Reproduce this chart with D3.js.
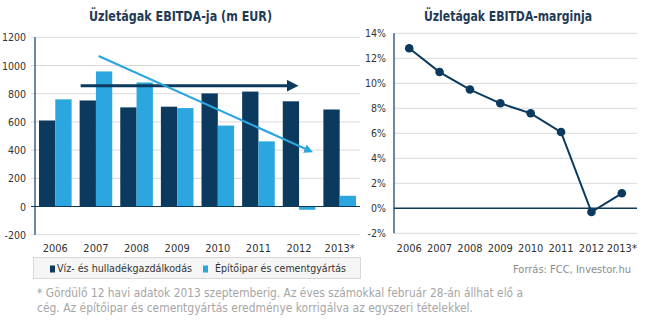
<!DOCTYPE html>
<html>
<head>
<meta charset="utf-8">
<script src="https://cdn.jsdelivr.net/npm/d3@7"></script>
<style>
  body { margin: 0; background: #fff; }
  svg { display: block; font-family: "DejaVu Sans Condensed", "Liberation Sans", sans-serif; }
</style>
</head>
<body>
<div id="chart"></div>
<script>
// data
var years = ["2006", "2007", "2008", "2009", "2010", "2011", "2012", "2013*"];
var vizHulladek = [610, 752, 703, 708, 802, 815, 746, 688];
var epitoipar = [760, 958, 880, 698, 574, 462, -23, 76];
var margin = [12.8, 10.9, 9.5, 8.4, 7.6, 6.1, -0.3, 1.2];
var ebitdaTicks = [-200, 0, 200, 400, 600, 800, 1000, 1200];
var marginTicks = [-2, 0, 2, 4, 6, 8, 10, 12, 14];
var seriesNames = ["Víz- és hulladékgazdálkodás", "Építőipar és cementgyártás"];

var navy = "#0b3a5e", sky = "#2ba6de", grid = "#d9d9d9", labelCol = "#333";

var svg = d3.select("#chart").append("svg")
    .attr("width", 645)
    .attr("height", 322);

// ---- left: EBITDA bars ----
var x1 = d3.scaleBand().domain(years).range([35, 360]);
var y1 = d3.scaleLinear().domain([-200, 1200]).range([234.7, 37.3]);

svg.append("text")
    .attr("x", 180.5).attr("y", 21)
    .attr("text-anchor", "middle")
    .attr("font-size", 13.5).attr("font-weight", "bold")
    .attr("fill", "#1f3b55")
    .attr("textLength", 183).attr("lengthAdjust", "spacingAndGlyphs")
    .text("Üzletágak EBITDA-ja (m EUR)");

svg.append("g").selectAll("line")
    .data(ebitdaTicks.filter(function (d) { return d !== 0; }))
    .enter().append("line")
    .attr("x1", 31).attr("x2", 360)
    .attr("y1", function (d) { return y1(d); })
    .attr("y2", function (d) { return y1(d); })
    .attr("stroke", grid);

svg.append("g").selectAll("text")
    .data(ebitdaTicks)
    .enter().append("text")
    .attr("x", 26)
    .attr("y", function (d) { return y1(d) + 4; })
    .attr("text-anchor", "end")
    .attr("font-size", 10.5)
    .attr("fill", labelCol)
    .text(function (d) { return d; });

var bw = 16.3;
var groups = svg.append("g").selectAll("g")
    .data(years)
    .enter().append("g");

groups.append("rect")
    .attr("x", function (d) { return x1(d) + x1.bandwidth() / 2 - bw; })
    .attr("width", bw)
    .attr("y", function (d, i) { return y1(Math.max(0, vizHulladek[i])); })
    .attr("height", function (d, i) { return Math.abs(y1(vizHulladek[i]) - y1(0)); })
    .attr("fill", navy);

groups.append("rect")
    .attr("x", function (d) { return x1(d) + x1.bandwidth() / 2; })
    .attr("width", bw)
    .attr("y", function (d, i) { return y1(Math.max(0, epitoipar[i])); })
    .attr("height", function (d, i) { return Math.abs(y1(epitoipar[i]) - y1(0)); })
    .attr("fill", sky);

svg.append("line")
    .attr("x1", 31).attr("x2", 360)
    .attr("y1", y1(0)).attr("y2", y1(0))
    .attr("stroke", navy).attr("stroke-width", 1.2);
svg.append("line")
    .attr("x1", 35).attr("x2", 35)
    .attr("y1", y1(1200)).attr("y2", y1(-200))
    .attr("stroke", navy).attr("stroke-width", 1.2);

svg.append("g").selectAll("text")
    .data(years)
    .enter().append("text")
    .attr("x", function (d) { return x1(d) + x1.bandwidth() / 2; })
    .attr("y", 252)
    .attr("text-anchor", "middle")
    .attr("font-size", 11)
    .attr("fill", labelCol)
    .text(function (d) { return d; });

// trend arrows
var defs = svg.append("defs");
[["headNavy", navy], ["headSky", sky]].forEach(function (m) {
    defs.append("marker")
        .attr("id", m[0])
        .attr("viewBox", "0 0 10 10")
        .attr("refX", 6).attr("refY", 5)
        .attr("markerWidth", 4).attr("markerHeight", 4)
        .attr("orient", "auto")
        .append("path")
        .attr("d", "M0,0 L10,5 L0,10 z")
        .attr("fill", m[1]);
});

svg.append("line")
    .attr("x1", x1("2007") + 5).attr("x2", x1("2012") + 15)
    .attr("y1", y1(857)).attr("y2", y1(857))
    .attr("stroke", navy).attr("stroke-width", 3)
    .attr("marker-end", "url(#headNavy)");

svg.append("line")
    .attr("x1", x1("2007") + 23).attr("x2", x1("2012") + 31)
    .attr("y1", y1(1068)).attr("y2", y1(395))
    .attr("stroke", sky).attr("stroke-width", 2.2)
    .attr("marker-end", "url(#headSky)");

// legend
svg.append("rect")
    .attr("x", 33.5).attr("y", 257.5)
    .attr("width", 327).attr("height", 21)
    .attr("fill", "#f5f5f5").attr("stroke", "#d8d8d8");

var legX = [50, 203];
var legW = [135, 131];
var leg = svg.append("g").selectAll("g")
    .data(seriesNames)
    .enter().append("g")
    .attr("transform", function (d, i) { return "translate(" + legX[i] + ",272)"; });
leg.append("rect")
    .attr("x", 0).attr("y", -6.5).attr("width", 5).attr("height", 7)
    .attr("fill", function (d, i) { return i === 0 ? navy : sky; });
leg.append("text")
    .attr("x", function (d, i) { return i === 0 ? 7 : 12; })
    .attr("y", 0)
    .attr("font-size", 11)
    .attr("fill", labelCol)
    .attr("textLength", function (d, i) { return legW[i]; })
    .attr("lengthAdjust", "spacingAndGlyphs")
    .text(function (d) { return d; });

// ---- right: EBITDA margin line ----
var x2 = d3.scaleBand().domain(years).range([394, 637]);
var y2 = d3.scaleLinear().domain([-2, 14]).range([233.3, 33.3]);

svg.append("text")
    .attr("x", 508).attr("y", 21)
    .attr("text-anchor", "middle")
    .attr("font-size", 13.5).attr("font-weight", "bold")
    .attr("fill", "#1f3b55")
    .attr("textLength", 168).attr("lengthAdjust", "spacingAndGlyphs")
    .text("Üzletágak EBITDA-marginja");

svg.append("g").selectAll("line")
    .data(marginTicks.filter(function (d) { return d !== 0; }))
    .enter().append("line")
    .attr("x1", 394).attr("x2", 637)
    .attr("y1", function (d) { return y2(d); })
    .attr("y2", function (d) { return y2(d); })
    .attr("stroke", grid);

svg.append("g").selectAll("text")
    .data(marginTicks)
    .enter().append("text")
    .attr("x", 386)
    .attr("y", function (d) { return y2(d) + 4; })
    .attr("text-anchor", "end")
    .attr("font-size", 10.5)
    .attr("fill", labelCol)
    .text(function (d) { return d + "%"; });

svg.append("line")
    .attr("x1", 394).attr("x2", 637)
    .attr("y1", y2(0)).attr("y2", y2(0))
    .attr("stroke", navy).attr("stroke-width", 1.4);
svg.append("line")
    .attr("x1", 394).attr("x2", 394)
    .attr("y1", y2(14)).attr("y2", y2(-2))
    .attr("stroke", navy).attr("stroke-width", 1.2);

var line = d3.line()
    .x(function (d, i) { return x2(years[i]) + x2.bandwidth() / 2; })
    .y(function (d) { return y2(d); });

svg.append("path")
    .datum(margin)
    .attr("d", line)
    .attr("fill", "none")
    .attr("stroke", navy)
    .attr("stroke-width", 2);

svg.append("g").selectAll("circle")
    .data(margin)
    .enter().append("circle")
    .attr("cx", function (d, i) { return x2(years[i]) + x2.bandwidth() / 2; })
    .attr("cy", function (d) { return y2(d); })
    .attr("r", 4.3)
    .attr("fill", navy);

svg.append("g").selectAll("text")
    .data(years)
    .enter().append("text")
    .attr("x", function (d) { return x2(d) + x2.bandwidth() / 2; })
    .attr("y", 252)
    .attr("text-anchor", "middle")
    .attr("font-size", 11)
    .attr("fill", labelCol)
    .text(function (d) { return d; });

// source + footnote
svg.append("text")
    .attr("x", 631).attr("y", 273)
    .attr("text-anchor", "end")
    .attr("font-size", 11)
    .attr("fill", "#8c8c8c")
    .attr("textLength", 118).attr("lengthAdjust", "spacingAndGlyphs")
    .text("Forrás: FCC, Investor.hu");

var footnote = [
    "* Gördülő 12 havi adatok 2013 szeptemberig. Az éves számokkal február 28-án állhat elő a",
    "cég. Az építőipar és cementgyártás eredménye korrigálva az egyszeri tételekkel."
];
var footW = [486, 436];
svg.append("g").selectAll("text")
    .data(footnote)
    .enter().append("text")
    .attr("x", 37)
    .attr("y", function (d, i) { return 297 + i * 15; })
    .attr("font-size", 11.5)
    .attr("fill", "#a6a6a6")
    .attr("textLength", function (d, i) { return footW[i]; })
    .attr("lengthAdjust", "spacingAndGlyphs")
    .text(function (d) { return d; });
</script>
</body>
</html>
